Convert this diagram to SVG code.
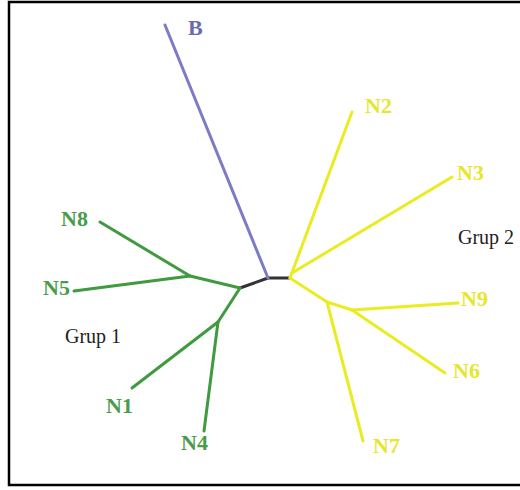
<svg xmlns="http://www.w3.org/2000/svg" width="520" height="490" viewBox="0 0 520 490">
  <style>
    .edge { fill: none; stroke-width: 3; stroke-linecap: round; stroke-linejoin: round; }
    .g1 { stroke: #3f9a40; }
    .g2 { stroke: #ebeb22; }
    .out { stroke: #7c7cc6; }
    .core { stroke: #333333; }
    .lbl { font-family: "Liberation Serif", "Times New Roman", serif; font-weight: bold; font-size: 22px; }
    .t1 { fill: #4a9c4a; }
    .t2 { fill: #e6e62a; }
    .tb { fill: #6a6ab0; }
    .grp { font-family: "Liberation Serif", "Times New Roman", serif; font-size: 20px; fill: #222222; }
  </style>

  <rect x="0" y="0" width="520" height="490" fill="#ffffff"/>
  <!-- frame -->
  <rect x="9" y="2" width="514" height="483" fill="none" stroke="#000000" stroke-width="2.5"/>

  <!-- tree branches -->
  <g id="connectors">
    <!-- root segment -->
    <polyline class="edge core" points="240,288 268,278 290,278"/>
    <!-- outgroup -->
    <line class="edge out" x1="268" y1="278" x2="165" y2="25"/>
    <!-- group 1 -->
    <line class="edge g1" x1="240" y1="288" x2="190" y2="276"/>
    <line class="edge g1" x1="190" y1="276" x2="100" y2="222"/>
    <line class="edge g1" x1="190" y1="276" x2="74" y2="291"/>
    <line class="edge g1" x1="240" y1="288" x2="218" y2="322"/>
    <line class="edge g1" x1="218" y1="322" x2="132" y2="388"/>
    <line class="edge g1" x1="218" y1="322" x2="204" y2="431"/>
    <!-- group 2 -->
    <line class="edge g2" x1="290" y1="278" x2="352" y2="112"/>
    <line class="edge g2" x1="292" y1="273" x2="452" y2="177"/>
    <line class="edge g2" x1="290" y1="278" x2="327" y2="302"/>
    <line class="edge g2" x1="327" y1="302" x2="363" y2="441"/>
    <line class="edge g2" x1="327" y1="302" x2="352" y2="310"/>
    <line class="edge g2" x1="352" y1="310" x2="458" y2="303"/>
    <line class="edge g2" x1="352" y1="310" x2="445" y2="373"/>
  </g>

  <!-- leaves -->
  <g id="B"><text class="lbl tb" x="188" y="35">B</text></g>
  <g id="N2"><text class="lbl t2" x="365" y="113">N2</text></g>
  <g id="N3"><text class="lbl t2" x="457" y="180">N3</text></g>
  <g id="N9"><text class="lbl t2" x="461" y="306">N9</text></g>
  <g id="N6"><text class="lbl t2" x="453" y="378">N6</text></g>
  <g id="N7"><text class="lbl t2" x="373" y="453">N7</text></g>
  <g id="N8"><text class="lbl t1" x="61" y="226">N8</text></g>
  <g id="N5"><text class="lbl t1" x="43" y="295">N5</text></g>
  <g id="N1"><text class="lbl t1" x="106" y="413">N1</text></g>
  <g id="N4"><text class="lbl t1" x="181" y="450">N4</text></g>

  <!-- group captions -->
  <g id="grup1"><text class="grp" x="65" y="343">Grup 1</text></g>
  <g id="grup2"><text class="grp" x="458" y="244">Grup 2</text></g>
</svg>
